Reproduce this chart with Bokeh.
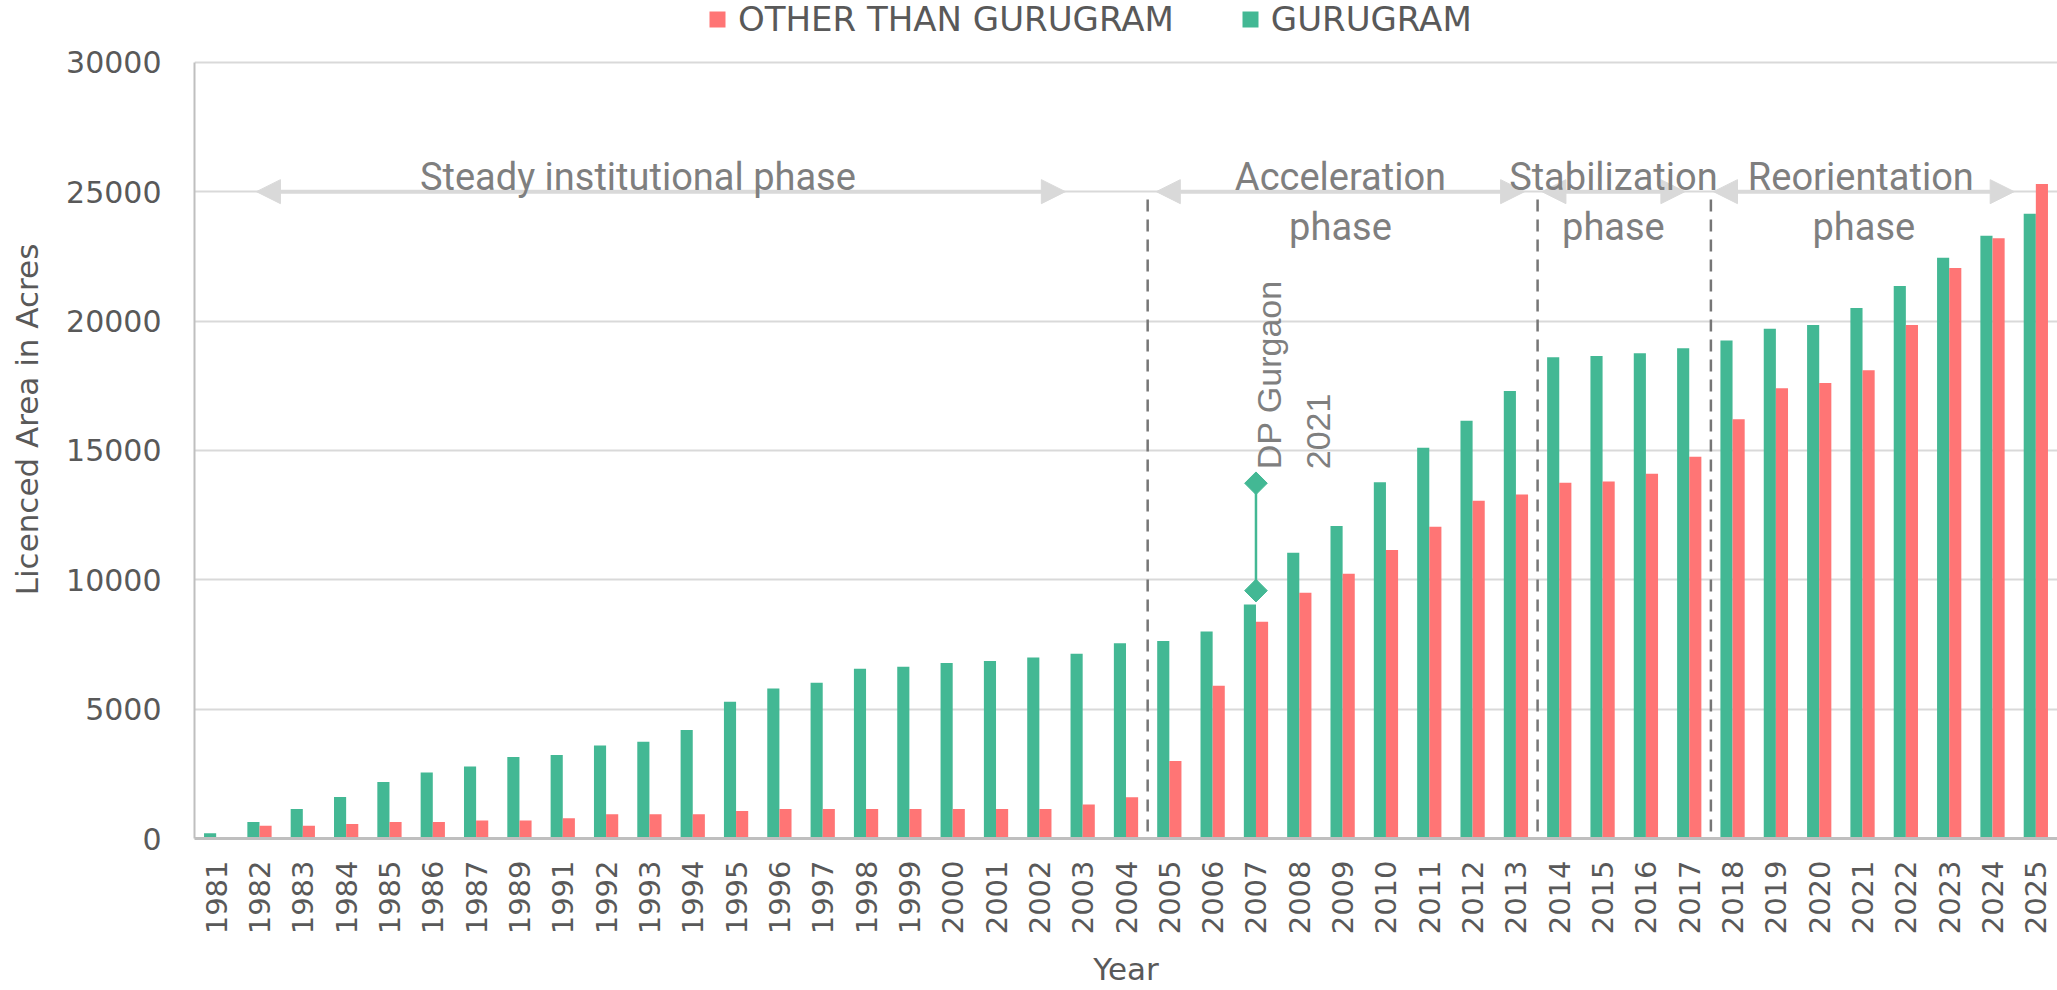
import math
from bokeh.plotting import figure
from bokeh.models import (ColumnDataSource, FactorRange, Range1d, Legend, LegendItem,
                          Arrow, NormalHead, Label, FixedTicker)
from bokeh.transform import dodge
from bokeh.embed import file_html
from bokeh.resources import INLINE

# ---------------- data ----------------
years = ["1981", "1982", "1983", "1984", "1985", "1986", "1987", "1989", "1991",
         "1992", "1993", "1994", "1995", "1996", "1997", "1998", "1999", "2000",
         "2001", "2002", "2003", "2004", "2005", "2006", "2007", "2008", "2009",
         "2010", "2011", "2012", "2013", "2014", "2015", "2016", "2017", "2018",
         "2019", "2020", "2021", "2022", "2023", "2024", "2025"]
gurugram = [200, 640, 1140, 1600, 2180, 2550, 2780, 3150, 3230, 3590, 3740, 4190,
            5290, 5800, 6020, 6560, 6640, 6780, 6860, 7000, 7140, 7550, 7630, 8000,
            9040, 11040, 12080, 13770, 15100, 16150, 17300, 18600, 18650, 18750,
            18950, 19250, 19700, 19850, 20500, 21350, 22450, 23300, 24150]
other_than_gurugram = [0, 490, 490, 560, 640, 640, 700, 700, 780, 940, 940, 940,
                       1060, 1140, 1140, 1140, 1140, 1140, 1140, 1140, 1310, 1590,
                       3000, 5900, 8380, 9500, 10230, 11150, 12050, 13050, 13300,
                       13750, 13800, 14100, 14750, 16200, 17400, 17600, 18100,
                       19850, 22050, 23200, 25300]
series_labels = ["OTHER THAN GURUGRAM", "GURUGRAM"]
y_ticks = [0, 5000, 10000, 15000, 20000, 25000, 30000]

phase_titles = ["Steady institutional phase", "Acceleration", "Stabilization", "Reorientation"]
phase_subtitles = ["", "phase", "phase", "phase"]
phase_from = ["1982", "2005", "2014", "2018"]
phase_to = ["2003", "2013", "2017", "2025"]
phase_level = 25000
phase_breaks = ["2004", "2013", "2017"]   # dashed line after these years

dp_year = "2007"
dp_low, dp_high = 9580, 13730
dp_text = ["DP Gurgaon", "2021"]

# ---------------- style ----------------
GREEN = "#43B894"
RED = "#FF7575"
LIGHT = "#D9D9D9"
AXIS = "#BFBFBF"
TXT = "#595959"
NOTE = "#7F7F7F"
DASH = "#767676"
FONT = "DejaVu Sans"

FIG_W, FIG_H = 2057, 990
BORDER_L, BORDER_B = 194, 149
AXIS_TOP_PX = 62             # where the 30000 line sits, from the figure top
frame_h = FIG_H - BORDER_B   # frame reaches the top of the figure (legend lives inside it)
y_max = y_ticks[-1]
y_top = y_max * frame_h / (frame_h - AXIS_TOP_PX)


def pos(year, off=0.0):
    return years.index(year) + 0.5 + off


p = figure(width=FIG_W, height=FIG_H,
           x_range=FactorRange(factors=years, range_padding=0),
           y_range=Range1d(0, y_top),
           output_backend="svg", toolbar_location=None,
           min_border_left=BORDER_L, min_border_right=0,
           min_border_top=0, min_border_bottom=BORDER_B)
p.outline_line_color = None
p.background_fill_color = "white"

src = ColumnDataSource(dict(year=years, g=gurugram, o=other_than_gurugram))
r_g = p.vbar(x=dodge("year", -0.14, range=p.x_range), top="g", width=0.28,
             source=src, fill_color=GREEN, line_color=None)
r_o = p.vbar(x=dodge("year", 0.14, range=p.x_range), top="o", width=0.28,
             source=src, fill_color=RED, line_color=None)

# grid / axes
p.xgrid.grid_line_color = None
p.ygrid.grid_line_color = LIGHT
p.ygrid.grid_line_width = 2
p.yaxis.ticker = FixedTicker(ticks=y_ticks)
p.ygrid.ticker = FixedTicker(ticks=y_ticks)

ya = p.yaxis[0]
ya.bounds = (0, y_max)
ya.axis_line_color = AXIS
ya.axis_line_width = 2
ya.major_tick_line_color = None
ya.minor_tick_line_color = None
ya.major_tick_out = 0
ya.major_tick_in = 0
ya.major_label_standoff = 33
ya.major_label_text_font = FONT
ya.major_label_text_font_size = "30px"
ya.major_label_text_color = TXT
ya.axis_label = "Licenced Area in Acres"
ya.axis_label_text_font = FONT
ya.axis_label_text_font_size = "31px"
ya.axis_label_text_font_style = "normal"
ya.axis_label_text_color = TXT
ya.axis_label_standoff = 18

xa = p.xaxis[0]
xa.axis_line_color = AXIS
xa.axis_line_width = 3
xa.major_tick_line_color = None
xa.major_tick_out = 0
xa.major_tick_in = 0
xa.major_label_orientation = math.pi / 2
xa.major_label_standoff = 22
xa.major_label_text_font = FONT
xa.major_label_text_font_size = "29px"
xa.major_label_text_color = TXT
xa.axis_label = "Year"
xa.axis_label_text_font = FONT
xa.axis_label_text_font_size = "31px"
xa.axis_label_text_font_style = "normal"
xa.axis_label_text_color = TXT
xa.axis_label_standoff = 14

# legend at the top of the frame (above the 30000 line)
legend = Legend(items=[LegendItem(label=series_labels[0], renderers=[r_o]),
                       LegendItem(label=series_labels[1], renderers=[r_g])],
                orientation="horizontal", location=(513, frame_h - 42),
                glyph_width=20, glyph_height=20, label_standoff=11, spacing=66,
                padding=0, margin=0, border_line_color=None, background_fill_alpha=0,
                label_text_font=FONT, label_text_font_size="34px",
                label_text_color=TXT)
p.add_layout(legend)

# phase separators (dashed)
for b in phase_breaks:
    xb = years.index(b) + 1.0
    p.add_layout(Arrow(end=None, x_start=xb, x_end=xb, y_start=24700, y_end=-4400,
                       line_color=DASH, line_width=2.5, line_dash="12 8"))

# phase arrows + labels
start_off = [-0.07, -0.3, -0.4, -0.44]
end_off = [-0.4, 0.2, -0.1, -0.5]
title_shift = [-23, 0, 0, -3]
for i, title in enumerate(phase_titles):
    xs = pos(phase_from[i], start_off[i])
    xe = pos(phase_to[i], end_off[i])
    p.add_layout(Arrow(start=NormalHead(size=24, fill_color=LIGHT, line_color=LIGHT),
                       end=NormalHead(size=24, fill_color=LIGHT, line_color=LIGHT),
                       x_start=xs, x_end=xe, y_start=phase_level, y_end=phase_level,
                       line_color=LIGHT, line_width=4))
    xc = (xs + xe) / 2
    p.add_layout(Label(x=xc, y=phase_level, x_offset=title_shift[i], y_offset=15,
                       text=title, text_align="center", text_baseline="alphabetic",
                       text_font="Roboto", text_font_size="38px", text_color=NOTE))
    if phase_subtitles[i]:
        p.add_layout(Label(x=xc, y=phase_level, y_offset=-35,
                           text=phase_subtitles[i], text_align="center",
                           text_baseline="alphabetic", text_font="Roboto",
                           text_font_size="38px", text_color=NOTE))

# DP Gurgaon 2021 marker
p.segment(x0=[dp_year], y0=[dp_low], x1=[dp_year], y1=[dp_high],
          line_color=GREEN, line_width=2.5)
p.scatter(x=[dp_year, dp_year], y=[dp_low, dp_high], marker="square",
          angle=math.pi / 4, size=16, fill_color=GREEN, line_color=GREEN)
for j, t in enumerate(dp_text):
    p.add_layout(Label(x=pos(dp_year), y=dp_high, x_offset=13 + 50 * j, y_offset=14,
                       text=t, angle=90, angle_units="deg", text_align="left",
                       text_baseline="alphabetic", text_font="Liberation Sans",
                       text_font_size="34px", text_color=NOTE))

open("out.html", "w").write(file_html(p, INLINE))
